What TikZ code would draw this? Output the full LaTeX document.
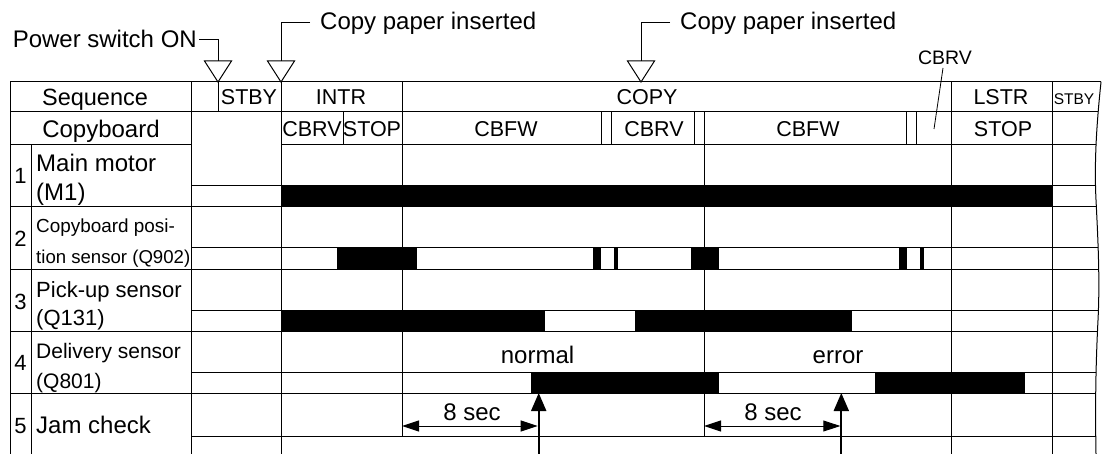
\documentclass[tikz,border=0pt]{standalone}
\usepackage{fontspec}
\setmainfont{Liberation Sans}
\usetikzlibrary{arrows.meta}
\newcommand\myfs[1]{\fontsize{#1}{#1}\selectfont}
\begin{document}
\begin{tikzpicture}[x=1pt,y=-1pt,
  grid/.style={line width=1pt},
  bar/.style={fill=black},
  lbl/.style={inner sep=0pt,anchor=base},
  lft/.style={inner sep=0pt,anchor=base west},
  marker/.style={line width=1pt,fill=white,line join=miter},
  dimarrow/.style={line width=1pt,{Triangle[length=17pt,width=11pt]}-{Triangle[length=17pt,width=11pt]}},
  chk/.style={line width=2pt,-{Triangle[length=18pt,width=15pt]}},
  big/.style={font=\myfs{24}},
  cell/.style={font=\myfs{21.5}}
]
\useasboundingbox (0,0) rectangle (1102,454);

% ---------- table body, clipped at the break line ----------
\begin{scope}
\clip (0,0) -- (1102,0) -- (1101,82) .. controls (1097,120) and (1094,160) .. (1096,200)
  .. controls (1098,240) and (1100,280) .. (1098,320)
  .. controls (1096,360) and (1095,400) .. (1096,454) -- (0,454) -- cycle;
% bars
\fill[bar] (281,186) rectangle (1052,207);
\fill[bar] (336.7,248) rectangle (416.7,269);
\fill[bar] (592.7,248) rectangle (600.7,269);
\fill[bar] (614,248) rectangle (617.7,269);
\fill[bar] (690.7,248) rectangle (719,269);
\fill[bar] (899,248) rectangle (907,269);
\fill[bar] (920,248) rectangle (924.3,269);
\fill[bar] (281,310) rectangle (545,331);
\fill[bar] (635,310) rectangle (851.7,331);
\fill[bar] (530.7,372) rectangle (719,393);
\fill[bar] (875,372) rectangle (1025,393);
% horizontal lines
\foreach \yy in {82,112,207,269,331,393} \draw[grid] (10,\yy) -- (1110,\yy);
\foreach \yy in {186,248,310,372,436} \draw[grid] (191,\yy) -- (1110,\yy);
\draw[grid] (10,145) -- (191,145);
\draw[grid] (281,145) -- (1110,145);
% vertical lines
\foreach \xx in {10,191,281,951,1052} \draw[grid] (\xx,82) -- (\xx,454);
\draw[grid] (31,145) -- (31,454);
\draw[grid] (218,82) -- (218,112);
\draw[grid] (402,82) -- (402,436);
\draw[grid] (704,112) -- (704,436);
\foreach \xx in {343,601,611,694,906,916} \draw[grid] (\xx,112) -- (\xx,145);
\end{scope}
% break line
\draw[grid] (1101,82) .. controls (1097,120) and (1094,160) .. (1096,200)
  .. controls (1098,240) and (1100,280) .. (1098,320)
  .. controls (1096,360) and (1095,400) .. (1096,454);

% ---------- event markers ----------
\coordinate (m1) at (218,82);
\coordinate (m2) at (281,82);
\coordinate (m3) at (641,82);
\draw[marker] (m1) -- ++(-13.5,-21) -- ++(27,0) -- cycle;
\draw[marker] (m2) -- ++(-13.5,-21) -- ++(27,0) -- cycle;
\draw[marker] (m3) -- ++(-13.5,-21) -- ++(27,0) -- cycle;

\node[lbl,big,anchor=base east] (pw) at (197,48) {Power switch ON};
\node[lft,big] (cp1) at (320,30) {Copy paper inserted};
\node[lft,big] (cp2) at (680,30) {Copy paper inserted};
\coordinate (m1t) at (218,61);
\coordinate (m2t) at (281,61);
\coordinate (m3t) at (641,61);
\draw[grid] (199,39.5) -| (m1t);
\draw[grid] (310,22.7) -| (m2t);
\draw[grid] (670,22.7) -| (m3t);

\node[lbl,font=\myfs{19.5}] (cbrvtop) at (945,65) {CBRV};
\coordinate (cbrvpt) at (934,129);
\draw[line width=0.8pt] (943,68) -- (cbrvpt);

% ---------- header texts ----------
\node[lbl,font=\myfs{23.5}] (seq) at (95,106) {Sequence};
\node[lbl,big] (cpb) at (101,138) {Copyboard};
\node[lbl,cell] (s1) at (249,105) {STBY};
\node[lbl,cell] (s2) at (341,105) {INTR};
\node[lbl,cell] (s3) at (647,105) {COPY};
\node[lbl,cell] (s4) at (1001,105) {LSTR};
\node[lbl,font=\myfs{15.5}] (s5) at (1074,105) {STBY};
\node[lbl,cell] (c1) at (312,137) {CBRV};
\node[lbl,cell] (c2) at (372,137) {STOP};
\node[lbl,cell] (c3) at (506,137) {CBFW};
\node[lbl,cell] (c4) at (654,137) {CBRV};
\node[lbl,cell] (c5) at (808,137) {CBFW};
\node[lbl,cell] (c6) at (1003,137) {STOP};

% ---------- row labels ----------
\node[lbl,font=\myfs{22}] (n1) at (20.5,184) {1};
\node[lbl,font=\myfs{22}] (n2) at (20.5,247) {2};
\node[lbl,font=\myfs{22}] (n3) at (20.5,309) {3};
\node[lbl,font=\myfs{22}] (n4) at (20.5,370) {4};
\node[lbl,font=\myfs{22}] (n5) at (20.5,433) {5};
\node[lft,big] (l1a) at (36,172) {Main motor};
\node[lft,big] (l1b) at (36,201) {(M1)};
\node[lft,font=\myfs{18.9}] (l2a) at (36,233) {Copyboard posi-};
\node[lft,font=\myfs{18.6}] (l2b) at (36,263) {tion sensor (Q902)};
\node[lft,font=\myfs{22}] (l3a) at (36,297) {Pick-up sensor};
\node[lft,font=\myfs{22}] (l3b) at (36,325) {(Q131)};
\node[lft,font=\myfs{21}] (l4a) at (36,358) {Delivery sensor};
\node[lft,font=\myfs{21}] (l4b) at (36,388) {(Q801)};
\node[lft,big] (l5) at (36,433) {Jam check};

% ---------- annotations ----------
\node[lbl,big] (normal) at (537.5,363) {normal};
\node[lbl,big] (error) at (838,363) {error};
\node[lbl,big] (t1) at (472,420.5) {8 sec};
\node[lbl,big] (t2) at (773,420.5) {8 sec};

\coordinate (j1b) at (538.7,454);
\coordinate (j1t) at (538.7,393);
\coordinate (j2b) at (841.3,454);
\coordinate (j2t) at (841.3,393);
\draw[chk] (j1b) -- (j1t);
\draw[chk] (j2b) -- (j2t);
\coordinate (d1a) at (402,426);
\coordinate (d1b) at (537.7,426);
\coordinate (d2a) at (704,426);
\coordinate (d2b) at (840.3,426);
\draw[dimarrow] (d1a) -- (d1b);
\draw[dimarrow] (d2a) -- (d2b);
\end{tikzpicture}
\end{document}
